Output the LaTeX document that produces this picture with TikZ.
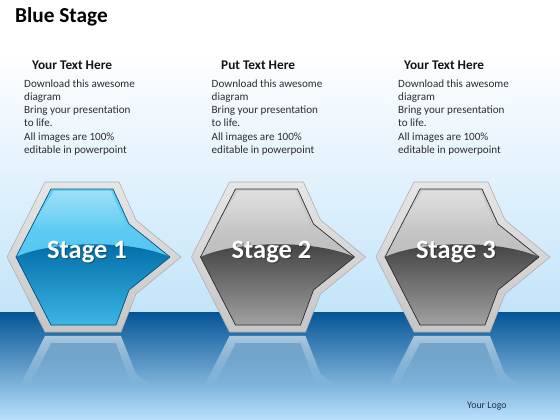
\documentclass[tikz,border=0pt]{standalone}
\usepackage{fontspec}
\setmainfont{Carlito}
\usetikzlibrary{fadings}
\definecolor{bgA}{RGB}{195,228,250}
\definecolor{bandA}{RGB}{5,85,150}
\definecolor{bandB}{RGB}{45,150,225}
\definecolor{bandC}{RGB}{185,225,252}
\definecolor{bua}{RGB}{105,208,245}
\definecolor{bub}{RGB}{62,188,238}
\definecolor{bla}{RGB}{0,105,165}
\definecolor{blb}{RGB}{70,195,240}
\definecolor{bol}{RGB}{0,85,125}
\definecolor{gua}{RGB}{208,208,208}
\definecolor{gub}{RGB}{172,172,172}
\definecolor{gla}{RGB}{62,62,62}
\definecolor{glb}{RGB}{178,178,178}
\definecolor{gol}{RGB}{45,45,45}
\definecolor{frA}{RGB}{230,230,230}
\definecolor{frB}{RGB}{198,198,198}
\definecolor{frC}{RGB}{175,175,175}
\definecolor{bodyc}{RGB}{45,45,45}
\definecolor{headc}{RGB}{20,20,20}
\definecolor{logoc}{RGB}{30,50,75}
\tikzfading[name=reflfade, top color=transparent!40, bottom color=transparent!100]
\tikzfading[name=glossfade, top color=transparent!65, bottom color=transparent!100]
\tikzset{
  bodytxt/.style={anchor=north west, inner sep=0pt, align=left, font=\fontsize{11.1}{13.2}\selectfont, text=bodyc},
  headtxt/.style={anchor=base west, inner sep=0pt, font=\fontsize{13.3}{16}\selectfont\bfseries, text=headc},
  titletxt/.style={anchor=base west, inner sep=0pt, font=\fontsize{21.3}{25}\selectfont\bfseries, text=black},
  stagelbl/.style={anchor=base, inner sep=0pt, font=\fontsize{26.5}{30}\selectfont\bfseries, text=white},
  stageshadow/.style={stagelbl, text=black, opacity=0.35},
  logotxt/.style={anchor=base west, inner sep=0pt, font=\fontsize{9.9}{12}\selectfont, text=logoc},
  frame/.style={top color=frA, bottom color=frB, draw=frC, line width=0.6pt}
}
\newcommand\outerpath{(7,257) -- (45,182) -- (119,182) -- (136,220) -- (181,257) -- (136,294) -- (121,332) -- (45,332) -- cycle}
\newcommand\innerpath{(16,257) -- (51,189) -- (113,189) -- (129,224) -- (170,257) -- (129,290) -- (116,325) -- (51,325) -- cycle}
\begin{document}
\begin{tikzpicture}[x=1pt,y=-1pt]
\useasboundingbox (0,0) rectangle (560,420);
% background
\fill[white] (0,0) rectangle (560,50);
\shade[top color=white, bottom color=bgA] (0,50) rectangle (560,312);
\shade[top color=bandA, middle color=bandB, bottom color=bandC] (0,312) rectangle (560,420);
% title and texts
\node[titletxt] (title) at (15,23) {Blue Stage};
\node[headtxt] (h1) at (32,69.5) {Your Text Here};
\node[headtxt] (h2) at (221,69.5) {Put Text Here};
\node[headtxt] (h3) at (404,69.5) {Your Text Here};
\foreach \x/\n in {24/1,211.5/2,398/3}{
  \node[bodytxt] (b\n) at (\x,79.3) {Download this awesome\\diagram\\Bring your presentation\\to life.\\All images are 100\%\\editable in powerpoint};
}
% stages
\foreach \k/\ua/\ub/\la/\lb/\ol/\lab in {0/bua/bub/bla/blb/bol/1, 1/gua/gub/gla/glb/gol/2, 2/gua/gub/gla/glb/gol/3}{
  \begin{scope}[shift={(\k*184.5,0)}]
    \shade[frame] \outerpath;
    \shade[top color=\ua, bottom color=\ub] \innerpath;
    \begin{scope}
      \clip \innerpath;
      \shade[top color=\la, bottom color=\lb] (0,260) -- (16,257) .. controls (50,241) and (130,239) .. (170,257) -- (190,262) -- (190,340) -- (0,340) -- cycle;
      \fill[white, path fading=glossfade] (54,191) -- (111,191) -- (126,226) -- (120,232) -- (40,232) -- (33,224) -- cycle;
    \end{scope}
    \draw[\ol, line width=0.7pt, line join=round] \innerpath;
    % reflection
    \fill[white, path fading=reflfade, even odd rule]
      (45,336) -- (121,336) -- (136,374) -- (150.6,386) -- (19.7,386) -- cycle
      (51,343) -- (116,343) -- (129,378) -- (139,386) -- (29,386) -- cycle;
    \fill[white, opacity=0.5, path fading=reflfade] (51,343) -- (116,343) -- (129,378) -- (139,386) -- (29,386) -- cycle;
    \node[stageshadow] (sh\lab) at (88,259.5) {Stage \lab};
    \node[stagelbl] (s\lab) at (87,258) {Stage \lab};
  \end{scope}
}
\node[logotxt] (logo) at (467,408.7) {Your Logo};
\end{tikzpicture}
\end{document}
